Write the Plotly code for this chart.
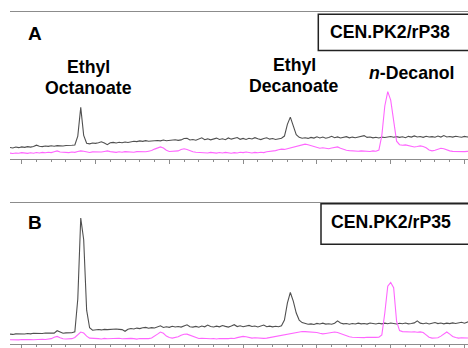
import plotly.graph_objects as go

# ---------------- data ----------------
RT_START = -0.16      # retention time of first sample (axis units, 1 unit = one major tick)
RT_STEP = 0.04        # sampling interval

panel_A_black = [
    7.7, 7.4, 8.0, 7.6, 8.1, 7.8, 8.3, 8.0, 8.4, 9.3,
    8.6, 8.3, 8.7, 8.5, 8.9, 8.6, 9.0, 8.8, 8.7, 9.1,
    9.0, 9.2, 9.4, 15.5, 35.0, 16.0, 10.6, 10.2, 10.8, 10.5,
    10.9, 11.6, 10.8, 9.6, 10.9, 11.2, 10.8, 11.3, 11.0, 11.4,
    11.1, 11.5, 12.0, 11.7, 12.2, 11.9, 12.4, 12.0, 12.3, 12.1,
    12.5, 12.2, 12.8, 12.3, 12.6, 12.4, 13.0, 12.6, 12.9, 13.8,
    14.0, 12.8, 13.1, 12.7, 13.4, 14.3, 13.0, 13.6, 12.9, 13.5,
    14.1, 13.2, 13.7, 13.0, 14.2, 13.4, 13.8, 14.5, 13.3, 13.9,
    13.2, 14.0, 13.5, 14.4, 13.6, 13.1, 13.9, 14.3, 13.4, 13.8,
    13.2, 13.6, 14.0, 15.5, 23.5, 28.4, 22.0, 16.5, 14.6, 14.0,
    14.3, 13.9, 14.6, 14.1, 15.0, 14.2, 14.8, 14.0, 14.5, 15.3,
    14.4, 14.9, 14.2, 14.7, 15.1, 14.3, 14.8, 14.4, 15.0, 15.6,
    15.8, 14.6, 14.9, 14.3, 14.7, 14.2, 14.8, 14.5, 14.9, 15.2,
    14.7, 15.1, 14.6, 15.0, 14.4, 15.3, 14.8, 15.6, 14.9, 15.2,
    14.6, 15.4, 14.9, 15.1, 14.7, 15.5, 14.8, 15.8, 14.9, 15.2,
    14.8, 15.4, 15.0, 14.7, 15.3, 14.9, 15.1,
]
panel_A_magenta = [
    3.9, 3.6, 4.0, 3.8, 4.2, 3.9, 3.7, 4.1, 3.8, 4.3,
    4.0, 4.4, 4.1, 4.5, 4.2, 4.8, 5.4, 4.6, 4.3, 4.5,
    4.2, 4.6, 4.4, 5.0, 5.4, 5.1, 4.6, 4.3, 4.7, 4.5,
    4.8, 4.6, 5.0, 5.4, 4.9, 4.6, 4.4, 4.8, 4.5, 4.9,
    4.6, 4.8, 4.5, 4.9, 4.7, 5.0, 4.8, 5.2, 5.6, 6.6,
    7.2, 8.1, 7.4, 5.8, 5.0, 5.2, 4.9, 5.4, 6.3, 6.8,
    6.4, 5.4, 4.8, 4.5, 4.3, 4.6, 4.2, 4.0, 4.4, 4.1,
    3.9, 4.3, 4.0, 4.4, 4.1, 3.8, 4.2, 4.0, 4.5, 4.2,
    4.6, 4.3, 4.0, 4.4, 4.1, 4.5, 4.2, 4.8, 5.0, 5.4,
    5.6, 6.2, 6.6, 6.4, 6.9, 7.1, 7.6, 8.3, 8.8, 9.4,
    10.0, 9.6, 9.1, 8.4, 7.8, 7.2, 7.5, 7.0, 6.9, 7.4,
    7.8, 8.1, 7.2, 6.4, 5.8, 5.6, 5.3, 5.5, 5.2, 5.4,
    5.1, 5.3, 5.0, 5.4, 5.2, 6.0, 16.0, 36.0, 45.8, 40.0,
    24.0, 12.0, 9.6, 9.2, 9.5, 9.0, 8.7, 8.1, 8.4, 8.8,
    8.4, 7.5, 6.0, 5.4, 5.8, 6.4, 7.2, 6.8, 6.0, 5.4,
    5.1, 5.0, 4.8, 5.2, 4.9, 5.1, 5.0,
]
panel_B_black = [
    7.0, 6.8, 7.2, 7.0, 7.3, 7.1, 7.5, 7.2, 7.6, 7.4,
    7.7, 7.5, 7.8, 7.6, 7.9, 7.7, 9.4, 8.2, 7.6, 7.9,
    7.7, 8.0, 8.6, 32.0, 89.4, 74.0, 24.0, 11.5, 9.8, 10.1,
    10.3, 10.0, 10.4, 10.2, 10.5, 10.3, 10.6, 10.4, 10.2, 9.0,
    10.5, 11.0, 10.7, 11.3, 10.9, 11.5, 11.8, 11.2, 11.6, 11.4,
    11.9, 12.9, 11.7, 12.2, 11.8, 12.6, 12.1, 12.4, 12.0, 12.7,
    13.6, 12.3, 12.0, 12.5, 11.9, 12.8, 12.2, 13.4, 12.4, 12.1,
    12.7, 12.2, 13.1, 12.5, 12.0, 12.8, 13.7, 12.4, 12.9, 12.3,
    12.6, 13.2, 12.4, 12.8, 12.1, 12.9, 13.5, 12.3, 12.7, 12.2,
    12.6, 12.3, 12.9, 17.0, 29.0, 36.6, 30.5, 22.0, 17.0, 15.2,
    14.5, 14.0, 14.3, 13.9, 14.6, 14.2, 14.8, 14.1, 14.4, 14.0,
    14.7, 16.4, 14.9, 14.3, 14.6, 14.0, 14.5, 14.2, 14.8, 14.3,
    14.6, 14.1, 14.9, 14.4, 14.2, 14.7, 14.3, 14.8, 14.4, 14.9,
    14.5, 14.2, 14.7, 14.4, 14.9, 14.3, 14.6, 15.0, 16.4, 14.8,
    14.4, 14.9, 14.2, 14.7, 15.2, 14.5, 14.9, 14.3, 14.8, 14.5,
    15.0, 14.6, 14.9, 15.4, 14.8, 15.6, 16.4,
]
panel_B_magenta = [
    3.0, 2.8, 3.1, 2.9, 3.2, 3.0, 2.8, 3.1, 3.0, 3.3,
    3.1, 3.4, 3.2, 3.5, 3.8, 4.8, 5.4, 4.5, 3.7, 3.5,
    3.4, 3.8, 4.6, 6.5, 8.5, 7.8, 5.6, 4.2, 3.9, 3.7,
    3.8, 3.6, 4.0, 3.7, 3.9, 3.6, 3.8, 4.1, 3.7, 3.9,
    3.6, 4.0, 3.8, 3.5, 3.9, 3.7, 4.0, 3.8, 4.3, 5.4,
    7.0, 8.5, 7.6, 5.6, 4.6, 4.2, 4.5, 5.2, 6.2, 6.9,
    7.0, 6.2, 5.0, 4.3, 3.9, 4.1, 3.8, 4.0, 3.7, 3.9,
    3.6, 3.9, 3.7, 4.0, 3.8, 4.1, 3.9, 4.5, 4.8, 5.4,
    5.1, 4.5, 4.2, 4.4, 4.1, 4.3, 4.0, 4.2, 4.6, 5.2,
    5.6, 6.0, 6.4, 6.9, 7.4, 7.7, 8.0, 8.4, 8.7, 8.9,
    8.8, 8.6, 8.9, 8.5, 8.2, 7.6, 7.2, 7.5, 7.9, 8.3,
    8.5, 8.2, 7.4, 6.5, 5.6, 5.1, 4.8, 4.6, 4.9, 4.7,
    4.5, 4.8, 4.6, 4.9, 4.7, 4.8, 6.5, 22.0, 41.0, 43.7,
    40.0, 16.0, 9.5, 8.8, 8.6, 8.9, 8.5, 8.7, 8.3, 8.6,
    8.2, 6.5, 4.8, 4.2, 4.5, 4.4, 5.6, 7.2, 8.5, 7.0,
    5.4, 4.6, 4.2, 4.4, 4.1, 4.3, 4.2,
]

panel_letters = ["A", "B"]
strain_labels = ["CEN.PK2/rP38", "CEN.PK2/rP35"]
compound_labels = [["Ethyl", "Octanoate"], ["Ethyl", "Decanoate"], ["<i>n</i>-Decanol"]]

rt = [round(RT_START + RT_STEP * i, 3) for i in range(len(panel_A_black))]

# ---------------- layout geometry (pixels) ----------------
W, H = 468, 348
ML, MR, MT, MB = 10, 0, 12, 2
PW, PH = W - ML - MR, H - MT - MB


def fx(px):
    return (px - ML) / PW


def fy(py):
    return (H - MB - py) / PH


X_RANGE = [(ML - 21.7) / 73.8, (W - 21.7) / 73.8]
BLACK = "#505050"
MAGENTA = "#ff66ff"
AXC = "#8c8c8c"
FONT = "Arial, 'Liberation Sans', sans-serif"

fig = go.Figure()
for yref_axis, (blk, mag) in zip(["y", "y2"], [(panel_A_black, panel_A_magenta),
                                              (panel_B_black, panel_B_magenta)]):
    xa = "x" if yref_axis == "y" else "x2"
    fig.add_trace(go.Scatter(x=rt, y=blk, mode="lines", xaxis=xa, yaxis=yref_axis,
                             line=dict(color=BLACK, width=1.1), showlegend=False))
    fig.add_trace(go.Scatter(x=rt, y=mag, mode="lines", xaxis=xa, yaxis=yref_axis,
                             line=dict(color=MAGENTA, width=1.1), showlegend=False))

xcommon = dict(range=X_RANGE, showgrid=False, zeroline=False, showticklabels=False,
               showline=True, linecolor=AXC, linewidth=1, mirror=True,
               ticks="outside", tick0=0, dtick=1, ticklen=4, tickcolor=AXC, tickwidth=1,
               minor=dict(dtick=0.2, ticks="outside", ticklen=2, tickcolor=AXC, tickwidth=1,
                          showgrid=False))
ycommon = dict(range=[0, 100], visible=False, showgrid=False, zeroline=False)

fig.update_layout(
    width=W, height=H,
    margin=dict(l=ML, r=MR, t=MT, b=MB, pad=0),
    paper_bgcolor="white", plot_bgcolor="white",
    xaxis=dict(**xcommon, anchor="y"),
    xaxis2=dict(**xcommon, anchor="y2"),
    yaxis=dict(**ycommon, domain=[fy(159.7), 1.0], anchor="x"),
    yaxis2=dict(**ycommon, domain=[0.0, fy(204.3)], anchor="x2"),
    showlegend=False,
)

FS = 17.7
ann = []


def text(t, px, py, anchor="center", size=FS):
    ann.append(dict(text=t, x=fx(px), y=fy(py), xref="paper", yref="paper",
                    xanchor=anchor, yanchor="middle", showarrow=False,
                    font=dict(family=FONT, size=size, color="black")))


# panel letters
text("<b>%s</b>" % panel_letters[0], 26, 33.5, "left", 19)
text("<b>%s</b>" % panel_letters[1], 26, 223.5, "left", 19)
# strain labels
text("<b>%s</b>" % strain_labels[0], 328, 32, "left")
text("<b>%s</b>" % strain_labels[1], 329, 223, "left")
# compound labels
text("<b>%s</b>" % compound_labels[0][0], 88, 67.5)
text("<b>%s</b>" % compound_labels[0][1], 88.3, 88)
text("<b>%s</b>" % compound_labels[1][0], 294, 65)
text("<b>%s</b>" % compound_labels[1][1], 294, 86)
text("<b>%s</b>" % compound_labels[2][0], 411.7, 73)
fig.update_layout(annotations=ann)

fig.update_layout(shapes=[
    dict(type="rect", xref="paper", yref="paper", x0=fx(318.3), x1=fx(480),
         y0=fy(50.7), y1=fy(14.3), line=dict(color="#222222", width=1.5)),
    dict(type="rect", xref="paper", yref="paper", x0=fx(321), x1=fx(480),
         y0=fy(245.7), y1=fy(205), line=dict(color="#222222", width=1.5)),
])

fig.write_html("out.html")
